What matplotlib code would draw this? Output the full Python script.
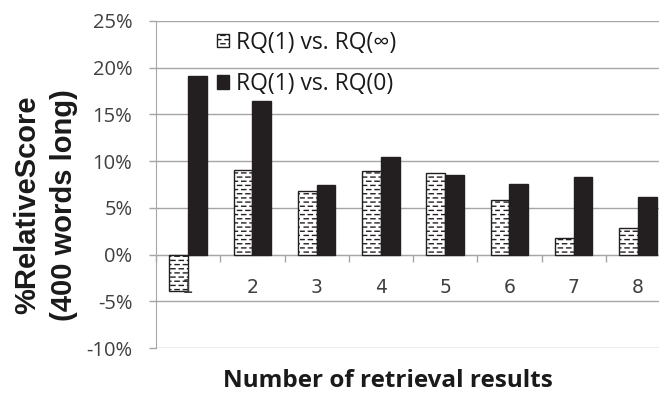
import matplotlib
matplotlib.use("Agg")
import matplotlib.pyplot as plt
import matplotlib.hatch as mhatch
from matplotlib.path import Path
import numpy as np
from matplotlib.patches import Patch
from matplotlib.ticker import FixedLocator, NullFormatter

categories = ["1", "2", "3", "4", "5", "6", "7", "8"]
rq_inf = [-3.9, 9.0, 6.8, 8.9, 8.7, 5.8, 1.8, 2.8]
rq_zero = [19.1, 16.4, 7.5, 10.4, 8.5, 7.6, 8.3, 6.2]
yticks = [-10, -5, 0, 5, 10, 15, 20, 25]
series_names = ["RQ(1) vs. RQ(\u221e)", "RQ(1) vs. RQ(0)"]


# brick-like short dashes in rows, replacing the '-' hatch
class DashedHorizontalHatch(mhatch.HatchPatternBase):
    def __init__(self, hatch, density):
        self.num_rows = int((hatch.count('-') + hatch.count('+')) * density)
        self.num_cols = 12
        self.num_vertices = self.num_rows * self.num_cols * 2

    def set_vertices_and_codes(self, vertices, codes):
        rows = (np.arange(self.num_rows) + 0.5) / self.num_rows
        cols = np.arange(self.num_cols) / self.num_cols
        dash = 0.5 / self.num_cols
        yy, xx = np.meshgrid(rows, cols, indexing="ij")
        xx = xx + (np.arange(self.num_rows)[:, None] % 2) * 0.5 / self.num_cols
        yy = yy.ravel()
        xx = xx.ravel()
        vertices[0::2, 0] = xx
        vertices[0::2, 1] = yy
        vertices[1::2, 0] = xx + dash
        vertices[1::2, 1] = yy
        codes[0::2] = Path.MOVETO
        codes[1::2] = Path.LINETO


mhatch._hatch_types = [DashedHorizontalHatch if t is mhatch.HorizontalHatch else t
                       for t in mhatch._hatch_types]

plt.rcParams['hatch.linewidth'] = 1.0
plt.rcParams['hatch.color'] = '#333333'

W, H = 659, 394
fig = plt.figure(figsize=(W/100, H/100), dpi=100)
ax = fig.add_axes([156/W, 1-348/H, (670-156)/W, (348-21)/H])

grid_c = "#a6a6a6"
txt_c = "#404040"
dark = "#231f20"
x = np.arange(1, len(categories)+1)
bw = 0.29
ax.bar(x - bw/2, rq_inf, bw, color="white", edgecolor=dark, linewidth=1.0, hatch="----", zorder=3)
ax.bar(x + bw/2, rq_zero, bw, color=dark, edgecolor=dark, linewidth=1.0, zorder=3)

ax.set_xlim(0.5, 8.5)
ax.set_ylim(-10, 25)
ax.set_yticks(yticks)
ax.set_yticklabels([f"{v}%" for v in yticks], fontsize=14.5, color=txt_c, family="Open Sans")
ax.yaxis.grid(True, color=grid_c, linewidth=1.0, zorder=0)
ax.set_axisbelow(True)

for s in ["top", "right"]:
    ax.spines[s].set_visible(False)
ax.spines["left"].set_color(grid_c)
ax.spines["bottom"].set_position(("data", 0))
ax.spines["bottom"].set_color(grid_c)
ax.tick_params(axis="y", length=5, color=grid_c, width=1, pad=12)

ax.xaxis.set_major_locator(FixedLocator(np.arange(0.5, 9, 1.0)))
ax.xaxis.set_major_formatter(NullFormatter())
ax.tick_params(axis="x", which="major", length=5, color=grid_c, width=1, direction="out")

for xi, lab in zip(x, categories):
    ax.annotate(lab, xy=(xi, 0), xytext=(0, -24), textcoords="offset points",
                ha="center", va="center", fontsize=13.5, color=txt_c,
                family="DejaVu Sans", zorder=6, annotation_clip=False)

fig.text(27/W, 1-205/H, "%RelativeScore", rotation=90, ha="center", va="center",
         fontsize=21, fontweight="bold", family="Liberation Sans", color="#1a1a1a")
fig.text(64/W, 1-205/H, "(400 words long)", rotation=90, ha="center", va="center",
         fontsize=21, fontweight="bold", family="Liberation Sans", color="#1a1a1a")
fig.text(388/W, 1-381/H, "Number of retrieval results", ha="center", va="center",
         fontsize=17.5, fontweight="bold", family="Open Sans", color="#1a1a1a")

handles = [Patch(facecolor="white", edgecolor=dark, hatch="----", linewidth=1.0),
           Patch(facecolor=dark, edgecolor=dark)]
leg = fig.legend(handles, series_names, loc="upper left", bbox_to_anchor=(196/W, 1-10/H),
                 frameon=False, handlelength=0.55, handleheight=0.55,
                 handletextpad=0.3, labelspacing=0.75, prop={"family": "Open Sans", "size": 16.5})
for t in leg.get_texts():
    t.set_color("#1a1a1a")

fig.savefig("out.png", dpi=100)
